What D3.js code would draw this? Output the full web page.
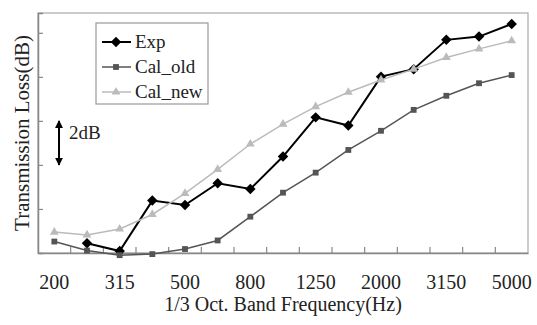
<!DOCTYPE html>
<html>
<head>
<meta charset="utf-8">
<script src="https://cdn.jsdelivr.net/npm/d3@7"></script>
<style>
  body { margin: 0; background: #fff; }
  svg { display: block; font-family: "Liberation Serif", "DejaVu Serif", serif; }
</style>
</head>
<body>
<svg id="chart"></svg>
<script>
// 1/3 octave band centre frequencies
const bands = ['200','250','315','400','500','630','800','1000','1250','1600','2000','2500','3150','4000','5000'];
const bandLabels = ['200','315','500','800','1250','2000','3150','5000'];

// transmission loss, relative dB (axis shows no numbers, only 2dB steps)
const expTL    = [null, 0.44, 0.09, 2.38, 2.18, 3.17, 2.91, 4.38, 6.16, 5.79, 8.01, 8.35, 9.68, 9.83, 10.40];
const calOldTL = [0.52, 0.11, -0.10, -0.05, 0.18, 0.57, 1.65, 2.74, 3.65, 4.68, 5.55, 6.50, 7.14, 7.71, 8.08];
const calNewTL = [0.95, 0.82, 1.09, 1.75, 2.71, 3.80, 4.95, 5.85, 6.65, 7.30, 7.86, 8.35, 8.88, 9.27, 9.64];

const yTicks = [2, 4, 6, 8, 10];

const w = 537, h = 325;
const margin = {top: 13, right: 9, bottom: 72, left: 38};

const svg = d3.select('#chart').attr('width', w).attr('height', h);

const x = d3.scaleBand()
    .domain(bands)
    .range([margin.left, w - margin.right])
    .padding(0);

const y = d3.scaleLinear()
    .domain([0, 10.9])
    .range([h - margin.bottom, margin.top]);

const series = [
    {name: 'Exp', values: expTL, color: '#000', width: 2, marker: 'diamond'},
    {name: 'Cal_old', values: calOldTL, color: '#555', width: 1.5, marker: 'square'},
    {name: 'Cal_new', values: calNewTL, color: '#bbb', width: 1.5, marker: 'triangle'}
];

// plot frame (top/right)
svg.append('rect')
    .attr('x', margin.left).attr('y', margin.top)
    .attr('width', w - margin.right - margin.left)
    .attr('height', h - margin.bottom - margin.top)
    .attr('fill', 'none').attr('stroke', '#aaa').attr('stroke-width', 1.2);

// y axis, ticks inward, no labels
const yAxis = d3.axisRight(y).tickValues(yTicks).tickSize(5).tickFormat('');
svg.append('g')
    .attr('transform', `translate(${margin.left},0)`)
    .call(yAxis)
    .call(g => g.selectAll('line').attr('stroke', '#888').attr('stroke-width', 1.2))
    .call(g => g.select('.domain').attr('stroke', '#888').attr('stroke-width', 1.5));

// x axis labels at every second band
const xAxis = d3.axisBottom(x)
    .tickValues(bandLabels)
    .tickSize(0)
    .tickPadding(22);
svg.append('g')
    .attr('transform', `translate(0,${h - margin.bottom})`)
    .call(xAxis)
    .call(g => g.select('.domain').attr('stroke', '#888').attr('stroke-width', 1.5))
    .call(g => g.selectAll('text')
        .attr('font-size', 20)
        .attr('font-family', '"Liberation Serif", serif')
        .attr('fill', '#222'));

// inward tick marks on band boundaries
svg.append('g').selectAll('line')
    .data(bands.slice(1))
    .join('line')
        .attr('x1', d => x(d)).attr('x2', d => x(d))
        .attr('y1', h - margin.bottom).attr('y2', h - margin.bottom - 6)
        .attr('stroke', '#888').attr('stroke-width', 1.2);

// lines
const line = d3.line()
    .defined(d => d.v !== null)
    .x(d => x(d.band) + x.bandwidth() / 2)
    .y(d => y(d.v));

const symbolFor = {
    diamond: d3.symbol().type(d3.symbolDiamond2).size(70),
    square: d3.symbol().type(d3.symbolSquare).size(34),
    triangle: d3.symbol().type(d3.symbolTriangle).size(34)
};

series.forEach(s => {
    const pts = s.values.map((v, i) => ({band: bands[i], v: v}));
    svg.append('path')
        .datum(pts)
        .attr('d', line)
        .attr('fill', 'none')
        .attr('stroke', s.color)
        .attr('stroke-width', s.width);
    svg.append('g').selectAll('path')
        .data(pts.filter(d => d.v !== null))
        .join('path')
            .attr('transform', d => `translate(${x(d.band) + x.bandwidth() / 2},${y(d.v)})`)
            .attr('d', symbolFor[s.marker])
            .attr('fill', s.color);
});

// legend
const lg = svg.append('g').attr('transform', 'translate(96,23)');
lg.append('rect')
    .attr('width', 112).attr('height', 81)
    .attr('fill', '#fff').attr('stroke', '#999').attr('stroke-width', 1.2);
series.forEach((s, i) => {
    const yy = 19 + i * 25;
    lg.append('line')
        .attr('x1', 6).attr('x2', 35).attr('y1', yy).attr('y2', yy)
        .attr('stroke', s.color).attr('stroke-width', s.width);
    lg.append('path')
        .attr('transform', `translate(20,${yy})`)
        .attr('d', symbolFor[s.marker])
        .attr('fill', s.color);
    lg.append('text')
        .attr('x', 39).attr('y', yy + 6)
        .attr('font-size', 19).attr('fill', '#222')
        .text(s.name);
});

// 2dB scale arrow
svg.append('defs').append('marker')
    .attr('id', 'ah').attr('viewBox', '0 0 10 10')
    .attr('refX', 9).attr('refY', 5)
    .attr('markerWidth', 4).attr('markerHeight', 4)
    .attr('orient', 'auto-start-reverse')
    .append('path').attr('d', 'M0,0 L10,5 L0,10 z').attr('fill', '#000');
svg.append('line')
    .attr('x1', 59).attr('x2', 59)
    .attr('y1', y(6)).attr('y2', y(4))
    .attr('stroke', '#000').attr('stroke-width', 2)
    .attr('marker-start', 'url(#ah)').attr('marker-end', 'url(#ah)');
svg.append('text')
    .attr('x', 69).attr('y', y(5.2))
    .attr('font-size', 19).attr('fill', '#222')
    .text('2dB');

// axis titles
svg.append('text')
    .attr('x', (margin.left + w - margin.right) / 2)
    .attr('y', 311)
    .attr('text-anchor', 'middle')
    .attr('font-size', 20).attr('fill', '#222')
    .text('1/3 Oct. Band Frequency(Hz)');

svg.append('text')
    .attr('transform', `translate(29,${(margin.top + h - margin.bottom) / 2}) rotate(-90)`)
    .attr('text-anchor', 'middle')
    .attr('font-size', 21).attr('fill', '#222')
    .text('Transmission Loss(dB)');
</script>
</body>
</html>
